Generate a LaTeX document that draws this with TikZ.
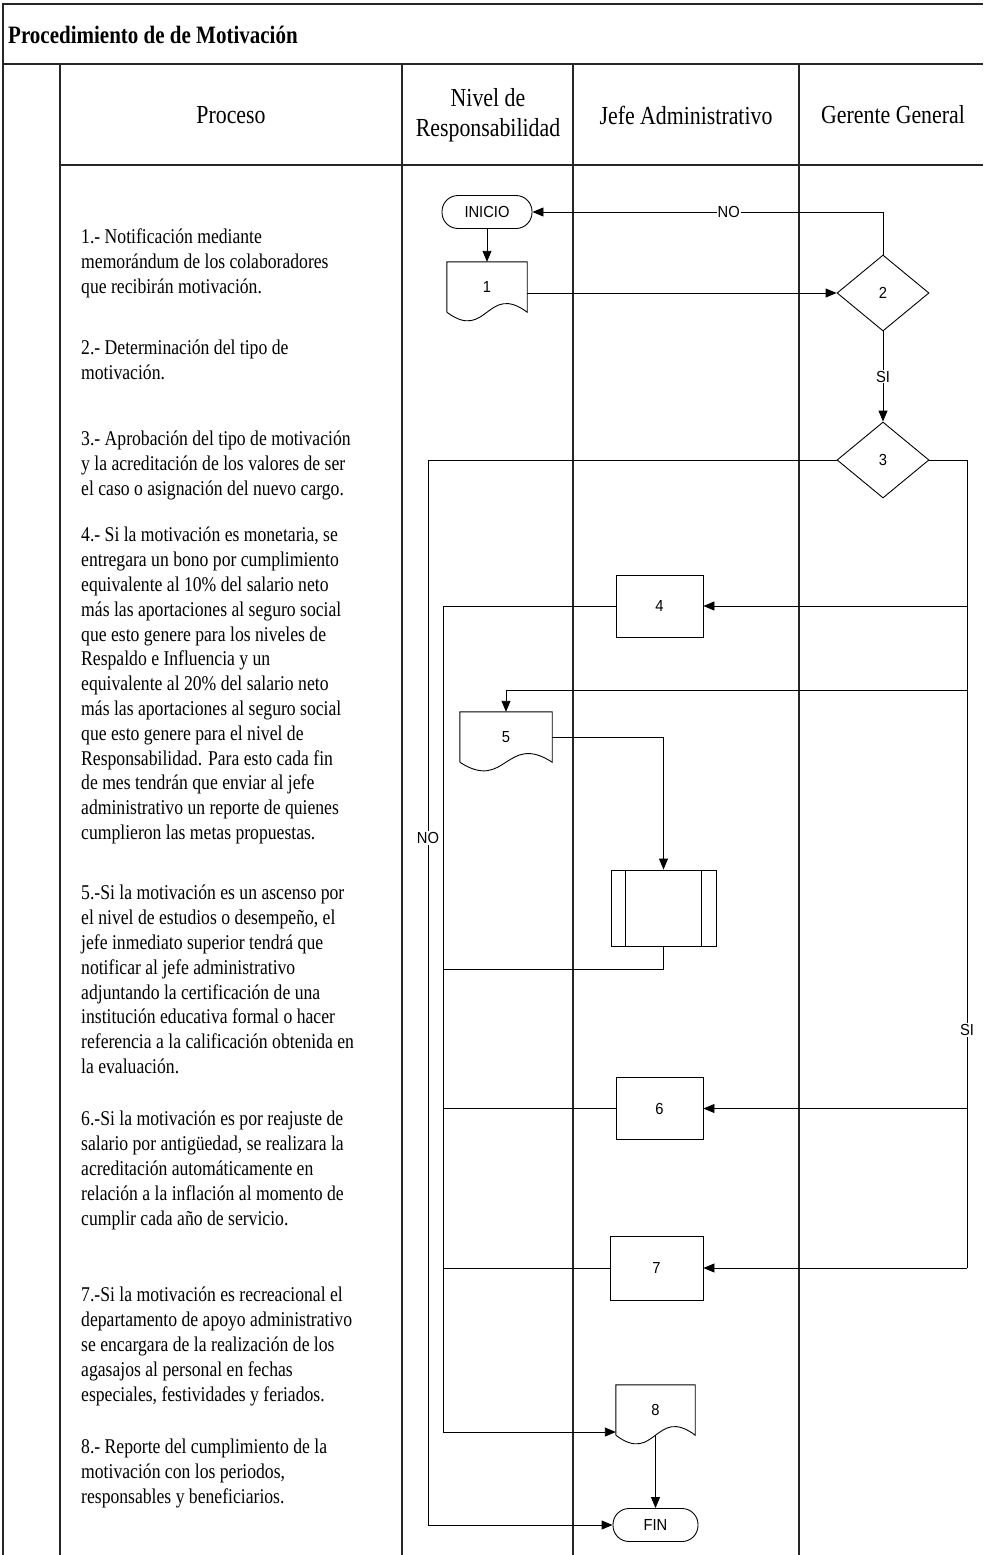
\documentclass[tikz,border=0pt]{standalone}
\usepackage{fontspec}
\setmainfont{Liberation Serif}[FakeStretch=0.84]
\newfontfamily\lblfont{Liberation Sans}[FakeStretch=0.92]
\usetikzlibrary{arrows.meta,shapes.geometric,calc}
\newcommand\docoutline[1]{%
  \draw[conn] (#1.south west) -- (#1.north west) -- (#1.north east) -- (#1.south east)
    .. controls ($(#1.south)+(0,-30)$) and ($(#1.south)+(0,30)$) .. (#1.south west);}
\begin{document}
\begin{tikzpicture}[x=1pt,y=-1pt,
  frame/.style={line width=1.2pt,draw=black!85},
  conn/.style={line width=0.9pt,draw=black},
  arr/.style={conn,-{Triangle[length=11pt,width=9pt]}},
  sfont/.style={font=\lblfont\fontsize{16pt}{19pt}\selectfont},
  procbox/.style={draw,line width=0.9pt,rectangle,minimum width=87pt,minimum height=62pt,inner sep=0pt,sfont},
  term/.style={draw,line width=0.9pt,rectangle,rounded corners=16pt,minimum width=90pt,minimum height=33pt,inner sep=0pt,sfont},
  dec/.style={draw,line width=0.9pt,diamond,minimum width=92pt,minimum height=76pt,inner sep=0pt,sfont},
  docbox/.style={rectangle,minimum height=50pt,inner sep=0pt,sfont},
  ptext/.style={anchor=north west,align=left,inner sep=0pt,font=\fontsize{21pt}{24.8pt}\selectfont},
  head/.style={align=center,inner sep=0pt,font=\fontsize{26pt}{30pt}\selectfont},
  lbl/.style={fill=white,inner sep=1pt,sfont}
]
\useasboundingbox (0,0) rectangle (983,1555);
\fill[white] (0,0) rectangle (983,1555);

% frame
\draw[frame] (3,1555) -- (3,4) -- (983,4);
\draw[frame] (3,64) -- (983,64);
\draw[frame] (60,64) -- (60,1555);
\draw[frame] (60,165) -- (983,165);
\draw[frame] (402,64) -- (402,1555);
\draw[frame] (573,64) -- (573,1555);
\draw[frame] (799,64) -- (799,1555);

% title and headers
\node[anchor=west,inner sep=0pt,font=\bfseries\fontsize{25pt}{28pt}\selectfont] (title) at (8,35) {Procedimiento de de Motivación};
\node[head] (hproc) at (231,115) {Proceso};
\node[head] (hniv) at (488,115) {Nivel de\\Responsabilidad};
\node[head] (hjefe) at (686,115) {Jefe Administrativo};
\node[head] (hger) at (893,115) {Gerente General};

% process text
\node[ptext] (p1) at (81,229) {1.- Notificación mediante\\memorándum de los colaboradores\\que recibirán motivación.};
\node[ptext] (p2) at (81,340) {2.- Determinación del tipo de\\motivación.};
\node[ptext] (p3) at (81,431) {3.- Aprobación del tipo de motivación\\y la acreditación de los valores de ser\\el caso o asignación del nuevo cargo.};
\node[ptext] (p4) at (81,527) {4.- Si la motivación es monetaria, se\\entregara un bono por cumplimiento\\equivalente al 10\% del salario neto\\más las aportaciones al seguro social\\que esto genere para los niveles de\\Respaldo e Influencia y un\\equivalente al 20\% del salario neto\\más las aportaciones al seguro social\\que esto genere para el nivel de\\Responsabilidad. Para esto cada fin\\de mes tendrán que enviar al jefe\\administrativo un reporte de quienes\\cumplieron las metas propuestas.};
\node[ptext] (p5) at (81,885) {5.-Si la motivación es un ascenso por\\el nivel de estudios o desempeño, el\\jefe inmediato superior tendrá que\\notificar al jefe administrativo\\adjuntando la certificación de una\\institución educativa formal o hacer\\referencia a la calificación obtenida en\\la evaluación.};
\node[ptext] (p6) at (81,1111) {6.-Si la motivación es por reajuste de\\salario por antigüedad, se realizara la\\acreditación automáticamente en\\relación a la inflación al momento de\\cumplir cada año de servicio.};
\node[ptext] (p7) at (81,1287) {7.-Si la motivación es recreacional el\\departamento de apoyo administrativo\\se encargara de la realización de los\\agasajos al personal en fechas\\especiales, festividades y feriados.};
\node[ptext] (p8) at (81,1439) {8.- Reporte del cumplimiento de la\\motivación con los periodos,\\responsables y beneficiarios.};

% shapes
\node[term] (ini) at (487,212) {INICIO};
\node[docbox,minimum width=80pt] (d1) at (487,287) {1};
\docoutline{d1}
\node[dec] (dia2) at (883,293) {2};
\node[dec] (dia3) at (883,460) {3};
\node[procbox] (b4) at (659.5,606) {4};
\node[docbox,minimum width=92pt] (d5) at (506,737) {5};
\docoutline{d5}
\node[draw,line width=0.9pt,rectangle,minimum width=105pt,minimum height=76pt,inner sep=0pt] (pp) at (663.5,908) {};
\draw[conn] ($(pp.north west)+(15,0)$) -- ($(pp.south west)+(15,0)$);
\draw[conn] ($(pp.north east)+(-15,0)$) -- ($(pp.south east)+(-15,0)$);
\node[procbox] (b6) at (659.5,1108.5) {6};
\node[procbox,minimum width=93pt,minimum height=64pt] (b7) at (656.5,1268) {7};
\node[docbox,minimum width=79pt] (d8) at (655.5,1410) {8};
\docoutline{d8}
\node[term,minimum width=85pt] (fin) at (655.5,1525) {FIN};

% junction coordinates
\coordinate (s0) at (967,460);
\coordinate (s5) at (967,690);
\coordinate (nx) at (428,1525);
\coordinate (m8) at (443,1432);
\coordinate (m9) at (443,969);

% connectors
\draw[arr] (ini.south) -- (d1.north);
\draw[arr] (d1.east |- dia2.west) -- (dia2.west);
\draw[arr] (dia2.north) |- node[lbl,pos=0.72] (no1) {NO} (ini.east);
\draw[arr] (dia2.south) -- node[lbl] (si1) {SI} (dia3.north);
\draw[arr] (dia3.west) -| (nx) -- (fin.west);
\node[lbl] (no2) at (428,838) {NO};
\draw[conn] (dia3.east) -- (s0) -- (s0 |- b7.east);
\node[lbl] (si2) at (967,1030) {SI};
\draw[arr] (s0 |- b4.east) -- (b4.east);
\draw[arr] (s5) -| (d5.north);
\draw[arr] (s0 |- b6.east) -- (b6.east);
\draw[arr] (s0 |- b7.east) -- (b7.east);
\draw[arr] (d5.east) -| (pp.north);
\draw[arr] (b4.west) -- (b4.west -| m8) -- (m8) -- (m8 -| d8.west);
\draw[conn] (b6.west) -- (b6.west -| m8);
\draw[conn] (b7.west) -- (b7.west -| m8);
\draw[conn] (pp.south) |- (m9);
\draw[arr] (d8.south) -- (fin.north);
\end{tikzpicture}
\end{document}
